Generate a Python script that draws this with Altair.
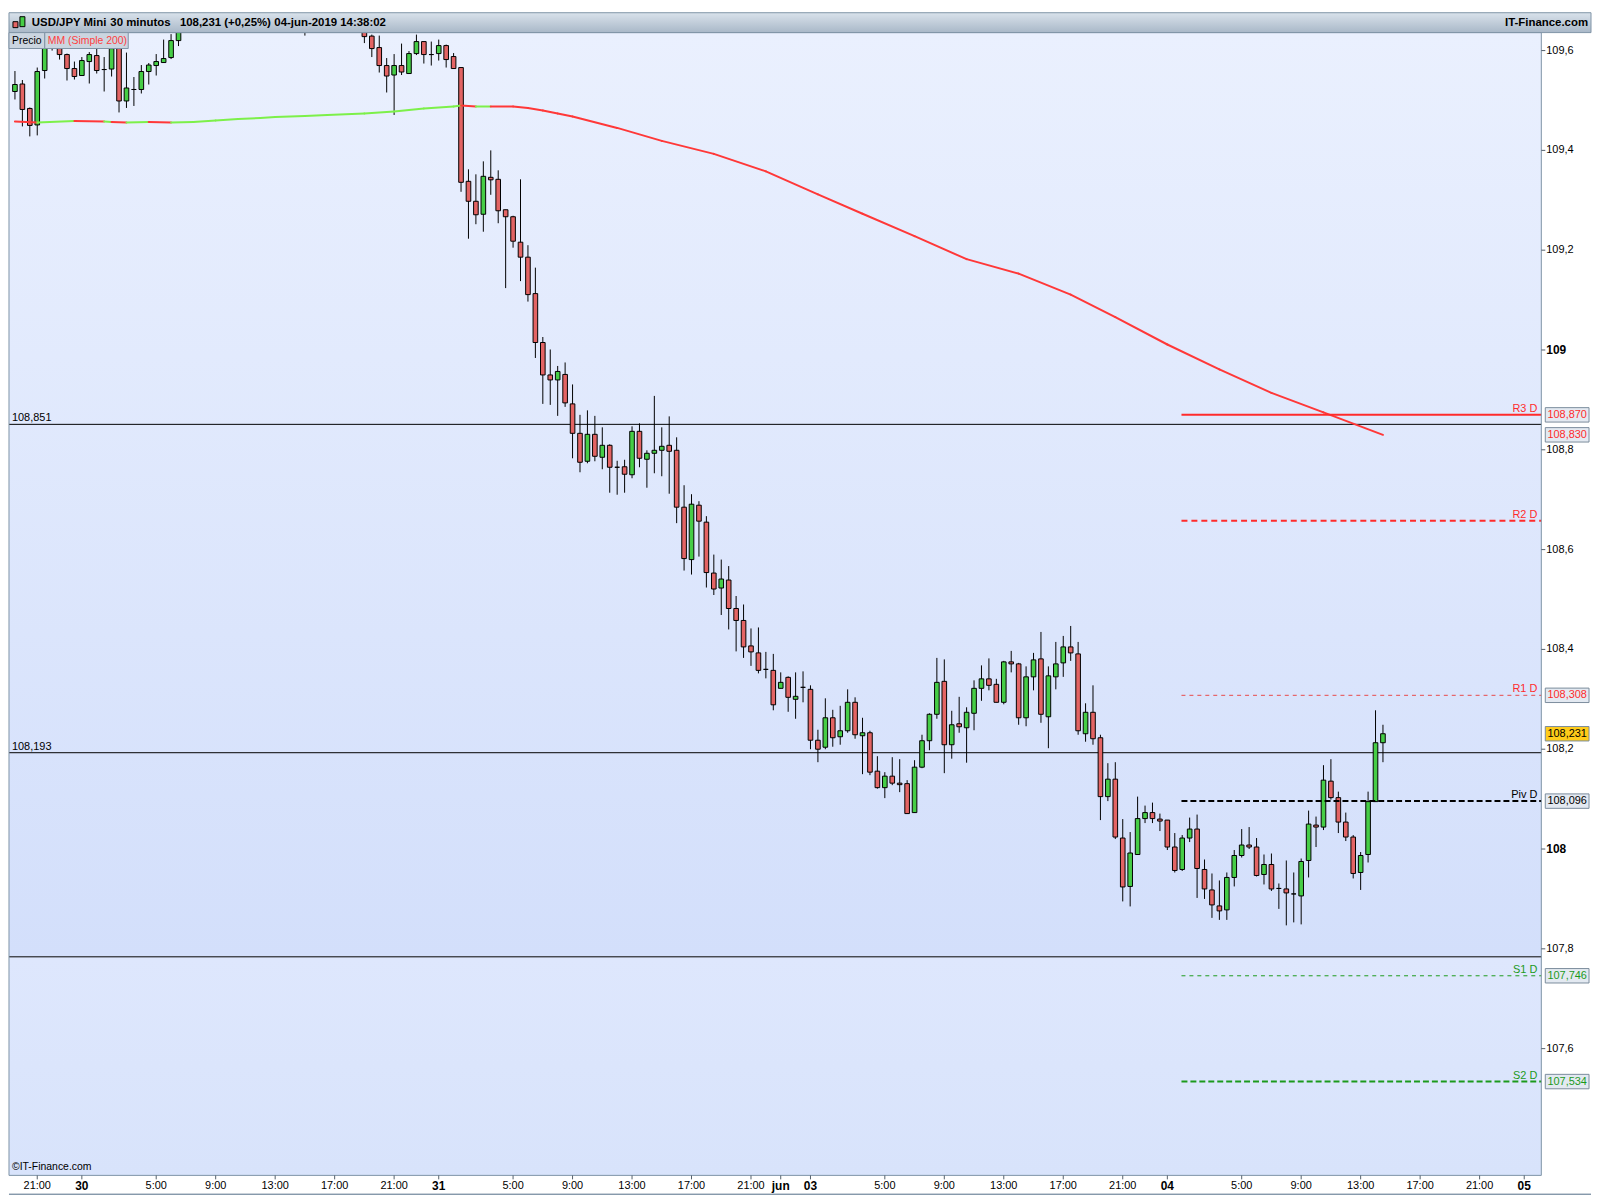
import altair as alt
import pandas as pd

# ---------------- data ----------------
opens = [
    109.518, 109.533, 109.484, 109.451, 109.560, 109.648, 109.618, 109.592, 109.564, 109.550,
    109.578, 109.590, 109.562, 109.563, 109.607, 109.499, 109.522, 109.522, 109.558, 109.570,
    109.576, 109.586, 109.620, 109.648, 109.682, 109.705, 109.695, 109.738, 109.760, 109.752,
    109.730, 109.748, 109.790, 109.815, 109.800, 109.770, 109.745, 109.712, 109.695, 109.668,
    109.680, 109.705, 109.728, 109.712, 109.700, 109.690, 109.675, 109.660, 109.629, 109.606,
    109.570, 109.551, 109.570, 109.554, 109.594, 109.618, 109.592, 109.594, 109.610, 109.588,
    109.566, 109.338, 109.298, 109.272, 109.346, 109.342, 109.281, 109.267, 109.216, 109.186,
    109.113, 109.015, 108.950, 108.940, 108.951, 108.892, 108.833, 108.777, 108.831, 108.785,
    108.809, 108.765, 108.766, 108.750, 108.837, 108.781, 108.793, 108.799, 108.809, 108.799,
    108.685, 108.580, 108.689, 108.655, 108.553, 108.523, 108.539, 108.482, 108.458, 108.407,
    108.393, 108.360, 108.358, 108.322, 108.344, 108.300, 108.324, 108.320, 108.218, 108.204,
    108.263, 108.225, 108.237, 108.294, 108.227, 108.233, 108.156, 108.123, 108.146, 108.132,
    108.131, 108.073, 108.164, 108.217, 108.270, 108.336, 108.209, 108.251, 108.243, 108.272,
    108.322, 108.341, 108.330, 108.294, 108.375, 108.371, 108.263, 108.345, 108.381, 108.265,
    108.345, 108.373, 108.405, 108.391, 108.231, 108.274, 108.223, 108.105, 108.140, 108.022,
    107.925, 107.989, 108.061, 108.073, 108.060, 108.058, 108.004, 107.959, 108.022, 108.040,
    107.959, 107.918, 107.886, 107.878, 107.943, 107.987, 108.008, 108.004, 107.949, 107.969,
    107.921, 107.920, 107.910, 107.906, 107.977, 108.048, 108.044, 108.136, 108.103, 108.054,
    108.024, 107.953, 107.989, 108.095, 108.213,
]
highs = [
    109.559, 109.541, 109.486, 109.566, 109.665, 109.668, 109.628, 109.594, 109.578, 109.587,
    109.597, 109.607, 109.587, 109.609, 109.622, 109.596, 109.547, 109.571, 109.575, 109.593,
    109.622, 109.633, 109.662, 109.690, 109.720, 109.730, 109.745, 109.770, 109.790, 109.775,
    109.760, 109.800, 109.830, 109.845, 109.820, 109.790, 109.770, 109.735, 109.720, 109.690,
    109.715, 109.740, 109.750, 109.735, 109.725, 109.710, 109.690, 109.670, 109.632, 109.630,
    109.585, 109.593, 109.614, 109.599, 109.632, 109.618, 109.618, 109.622, 109.612, 109.595,
    109.566, 109.362, 109.352, 109.378, 109.400, 109.360, 109.281, 109.269, 109.342, 109.210,
    109.165, 109.026, 109.001, 108.968, 108.975, 108.931, 108.870, 108.879, 108.868, 108.845,
    108.811, 108.778, 108.780, 108.847, 108.853, 108.799, 108.908, 108.845, 108.867, 108.825,
    108.729, 108.711, 108.697, 108.667, 108.590, 108.580, 108.567, 108.507, 108.490, 108.442,
    108.444, 108.395, 108.391, 108.354, 108.346, 108.354, 108.356, 108.328, 108.239, 108.302,
    108.279, 108.287, 108.320, 108.304, 108.263, 108.237, 108.186, 108.154, 108.184, 108.180,
    108.138, 108.178, 108.229, 108.272, 108.383, 108.380, 108.277, 108.305, 108.284, 108.338,
    108.368, 108.382, 108.341, 108.377, 108.397, 108.373, 108.366, 108.393, 108.435, 108.366,
    108.415, 108.427, 108.447, 108.415, 108.292, 108.328, 108.229, 108.172, 108.174, 108.060,
    108.034, 108.105, 108.087, 108.093, 108.071, 108.058, 108.032, 108.028, 108.063, 108.069,
    107.979, 107.951, 107.937, 107.953, 107.998, 108.040, 108.044, 108.022, 107.989, 107.991,
    107.931, 107.977, 107.953, 107.981, 108.077, 108.065, 108.168, 108.180, 108.115, 108.073,
    108.028, 107.994, 108.115, 108.278, 108.249,
]
lows = [
    109.502, 109.448, 109.428, 109.430, 109.544, 109.600, 109.582, 109.540, 109.542, 109.550,
    109.534, 109.554, 109.518, 109.548, 109.476, 109.485, 109.489, 109.514, 109.532, 109.550,
    109.576, 109.583, 109.609, 109.645, 109.670, 109.688, 109.690, 109.725, 109.740, 109.720,
    109.715, 109.740, 109.770, 109.790, 109.760, 109.735, 109.700, 109.680, 109.660, 109.630,
    109.665, 109.690, 109.700, 109.690, 109.680, 109.665, 109.650, 109.615, 109.587, 109.556,
    109.516, 109.471, 109.551, 109.553, 109.591, 109.574, 109.570, 109.580, 109.566, 109.564,
    109.317, 109.223, 109.252, 109.237, 109.311, 109.254, 109.124, 109.205, 109.138, 109.097,
    108.984, 108.892, 108.890, 108.868, 108.886, 108.783, 108.755, 108.773, 108.777, 108.761,
    108.714, 108.710, 108.714, 108.743, 108.765, 108.724, 108.753, 108.747, 108.712, 108.653,
    108.558, 108.550, 108.586, 108.524, 108.509, 108.469, 108.440, 108.396, 108.383, 108.367,
    108.352, 108.342, 108.278, 108.322, 108.275, 108.261, 108.294, 108.200, 108.174, 108.200,
    108.205, 108.209, 108.233, 108.221, 108.150, 108.148, 108.121, 108.102, 108.128, 108.114,
    108.071, 108.073, 108.162, 108.198, 108.261, 108.152, 108.181, 108.233, 108.173, 108.238,
    108.297, 108.318, 108.294, 108.290, 108.354, 108.249, 108.246, 108.318, 108.253, 108.202,
    108.320, 108.345, 108.377, 108.229, 108.215, 108.209, 108.058, 108.096, 108.020, 107.895,
    107.885, 107.989, 108.052, 108.052, 108.036, 107.998, 107.953, 107.956, 108.014, 107.902,
    107.900, 107.862, 107.858, 107.858, 107.925, 107.983, 108.000, 107.945, 107.929, 107.916,
    107.880, 107.847, 107.853, 107.849, 107.943, 108.004, 108.038, 108.099, 108.032, 108.016,
    107.941, 107.918, 107.973, 108.095, 108.174,
]
closes = [
    109.532, 109.482, 109.450, 109.558, 109.648, 109.618, 109.592, 109.564, 109.548, 109.580,
    109.592, 109.560, 109.562, 109.604, 109.499, 109.525, 109.522, 109.558, 109.571, 109.578,
    109.584, 109.620, 109.648, 109.682, 109.705, 109.695, 109.738, 109.760, 109.752, 109.730,
    109.748, 109.790, 109.815, 109.800, 109.770, 109.745, 109.712, 109.695, 109.668, 109.680,
    109.705, 109.728, 109.712, 109.700, 109.690, 109.675, 109.660, 109.628, 109.604, 109.570,
    109.549, 109.570, 109.557, 109.594, 109.618, 109.592, 109.592, 109.610, 109.582, 109.564,
    109.336, 109.298, 109.271, 109.348, 109.341, 109.279, 109.267, 109.218, 109.186, 109.111,
    109.015, 108.950, 108.940, 108.957, 108.894, 108.833, 108.775, 108.831, 108.787, 108.809,
    108.765, 108.765, 108.751, 108.837, 108.783, 108.793, 108.799, 108.807, 108.797, 108.685,
    108.582, 108.691, 108.657, 108.554, 108.521, 108.541, 108.482, 108.458, 108.405, 108.395,
    108.358, 108.360, 108.289, 108.334, 108.304, 108.306, 108.324, 108.218, 108.200, 108.263,
    108.223, 108.237, 108.294, 108.229, 108.233, 108.154, 108.123, 108.146, 108.132, 108.129,
    108.071, 108.164, 108.217, 108.270, 108.334, 108.209, 108.249, 108.245, 108.274, 108.322,
    108.341, 108.328, 108.294, 108.375, 108.371, 108.263, 108.345, 108.379, 108.270, 108.347,
    108.371, 108.405, 108.393, 108.237, 108.274, 108.221, 108.105, 108.140, 108.024, 107.924,
    107.992, 108.061, 108.073, 108.061, 108.056, 108.004, 107.957, 108.022, 108.040, 107.961,
    107.920, 107.888, 107.876, 107.943, 107.987, 108.008, 108.004, 107.947, 107.969, 107.920,
    107.921, 107.912, 107.910, 107.975, 108.050, 108.044, 108.138, 108.103, 108.054, 108.024,
    107.951, 107.987, 108.095, 108.213, 108.231,
]

# Simple moving average 200 (sampled along the curve) and its trend colour
ma_idx = [0, 3, 8, 12, 13, 15, 18, 21, 24, 27, 30, 33, 35, 39, 42, 47, 51, 55, 59, 60,
          62, 64, 67, 69, 71, 73, 75, 81, 87, 94, 101, 108, 114, 121, 128, 135, 142, 148,
          155, 162, 169, 176, 184]
ma_val = [109.458, 109.456, 109.459, 109.458, 109.457, 109.456, 109.457, 109.456, 109.457,
          109.460, 109.463, 109.465, 109.467, 109.469, 109.471, 109.474, 109.478, 109.484,
          109.488, 109.490, 109.488, 109.488, 109.488, 109.485, 109.480, 109.474, 109.468,
          109.445, 109.419, 109.393, 109.358, 109.312, 109.273, 109.228, 109.182, 109.153,
          109.111, 109.066, 109.011, 108.961, 108.914, 108.875, 108.830]
ma_trend = ["dn", "up", "dn", "up", "dn", "up", "dn",
            "up", "up", "up", "up", "up", "up", "up", "up", "up", "up", "up", "up",
            "dn", "up",
            "dn", "dn", "dn", "dn", "dn", "dn", "dn", "dn", "dn", "dn", "dn", "dn", "dn",
            "dn", "dn", "dn", "dn", "dn", "dn", "dn", "dn"]

# time axis (candle index -> label); day labels are bold
xtick_idx = [3, 9, 19, 27, 35, 43, 51, 57, 67, 75, 83, 91, 99, 103, 107, 117, 125, 133,
             141, 149, 155, 165, 173, 181, 189, 197, 203]
xtick_lbl = ["21:00", "30", "5:00", "9:00", "13:00", "17:00", "21:00", "31", "5:00", "9:00",
             "13:00", "17:00", "21:00", "jun", "03", "5:00", "9:00", "13:00", "17:00", "21:00",
             "04", "5:00", "9:00", "13:00", "17:00", "21:00", "05"]
xtick_day = [9, 57, 103, 107, 155, 203]

# price axis
ytick_vals = [107.6, 107.8, 108.0, 108.2, 108.4, 108.6, 108.8, 109.0, 109.2, 109.4, 109.6]
ytick_lbl = ["107,6", "107,8", "108", "108,2", "108,4", "108,6", "108,8", "109", "109,2",
             "109,4", "109,6"]

# daily pivots
pivot_names = ["R3 D", "R2 D", "R1 D", "Piv D", "S1 D", "S2 D"]
pivot_vals = [108.870, 108.658, 108.308, 108.096, 107.746, 107.534]
pivot_start = 156.9

# horizontal reference lines
ref_vals = [108.851, 108.193, 107.784]
ref_lbls = ["108,851", "108,193", ""]

# value boxes on the price axis
box_vals = [108.870, 108.830, 108.308, 108.231, 108.096, 107.746, 107.534]
box_lbls = ["108,870", "108,830", "108,308", "108,231", "108,096", "107,746", "107,534"]

# ---------------- styling / layout ----------------
W, H = 1542, 1150
X0, X1 = -0.8, 205.3
Y0, Y1 = 107.346, 109.636
ZONE = 107.784
FONT = "Liberation Sans, Arial, sans-serif"
NARROW = "Liberation Sans Narrow, Liberation Sans, Arial, sans-serif"
RED = "#ff2b2b"
GREEN = "#1c9a1c"
UPC = "#46cd46"
DNC = "#e36464"
FRAME = "#7f93a6"

xs = alt.Scale(domain=[X0, X1], nice=False, zero=False)
ys = alt.Scale(domain=[Y0, Y1], nice=False, zero=False)
one = pd.DataFrame({"k": [0]})


def X(f):
    return alt.X(f, scale=xs, axis=None)


def Y(f):
    return alt.Y(f, scale=ys, axis=None)


def grad(top, bottom):
    return alt.LinearGradient(
        gradient="linear",
        stops=[alt.GradientStop(color=top, offset=0), alt.GradientStop(color=bottom, offset=1)],
        x1=0, x2=0, y1=0, y2=1,
    )


def txt(text, x, y, **kw):
    return alt.Chart(one).mark_text(**kw).encode(
        x=alt.value(x), y=alt.value(y), text=alt.value(text))


def box(x, x2, y, y2, **kw):
    return alt.Chart(one).mark_rect(**kw).encode(
        x=alt.value(x), x2=alt.value(x2), y=alt.value(y), y2=alt.value(y2))


layers = []

# plot background (two gradient zones)
layers.append(alt.Chart(pd.DataFrame({"xa": [X0], "xb": [X1], "ya": [Y1], "yb": [ZONE]})).mark_rect(
    fill=grad("#eaf0fe", "#d3dffb")).encode(x=X("xa:Q"), x2="xb:Q", y=Y("ya:Q"), y2="yb:Q"))
layers.append(alt.Chart(pd.DataFrame({"xa": [X0], "xb": [X1], "ya": [ZONE], "yb": [Y0]})).mark_rect(
    fill=grad("#dee7fd", "#d8e3fb")).encode(x=X("xa:Q"), x2="xb:Q", y=Y("ya:Q"), y2="yb:Q"))

# reference black lines
refdf = pd.DataFrame({"v": ref_vals, "t": ref_lbls, "xa": [X0] * 3, "xb": [X1] * 3})
layers.append(alt.Chart(refdf).mark_rule(color="black", strokeWidth=1).encode(
    x=X("xa:Q"), x2="xb:Q", y=Y("v:Q")))
layers.append(alt.Chart(refdf).mark_text(
    align="left", baseline="bottom", dy=-1, fontSize=11, font=FONT, color="black").encode(
    x=alt.value(3), y=Y("v:Q"), text="t:N"))

# candles
n = len(opens)
cdf = pd.DataFrame({"i": list(range(n)), "o": opens, "h": highs, "l": lows, "c": closes})
cdf["fill"] = [UPC if c >= o else DNC for o, c in zip(opens, closes)]
cdf["xl"] = cdf["i"] - 0.31
cdf["xr"] = cdf["i"] + 0.31
layers.append(alt.Chart(cdf).mark_rule(color="black", strokeWidth=1, clip=True).encode(
    x=X("i:Q"), y=Y("l:Q"), y2="h:Q"))
layers.append(alt.Chart(cdf).mark_rect(stroke="black", strokeWidth=1, clip=True).encode(
    x=X("xl:Q"), x2="xr:Q", y=Y("o:Q"), y2="c:Q", fill=alt.Fill("fill:N", scale=None)))

# moving average
rows = []
for k in range(len(ma_idx) - 1):
    col = "#7df04a" if ma_trend[k] == "up" else "#ff3838"
    rows.append({"seg": k, "i": ma_idx[k], "v": ma_val[k], "col": col})
    rows.append({"seg": k, "i": ma_idx[k + 1], "v": ma_val[k + 1], "col": col})
madf = pd.DataFrame(rows)
layers.append(alt.Chart(madf).mark_line(strokeWidth=2, clip=True, strokeCap="round").encode(
    x=X("i:Q"), y=Y("v:Q"), detail="seg:N", color=alt.Color("col:N", scale=None)))

# pivot lines
pstyle = {
    "R3 D": dict(color=RED, strokeWidth=2),
    "R2 D": dict(color=RED, strokeWidth=2, strokeDash=[6, 4]),
    "R1 D": dict(color="#e84a4a", strokeWidth=1, strokeDash=[4, 4]),
    "Piv D": dict(color="black", strokeWidth=2, strokeDash=[6, 3]),
    "S1 D": dict(color=GREEN, strokeWidth=1, strokeDash=[4, 4]),
    "S2 D": dict(color=GREEN, strokeWidth=2, strokeDash=[6, 3]),
}
plabel_col = {"R3 D": RED, "R2 D": RED, "R1 D": RED, "Piv D": "black", "S1 D": GREEN, "S2 D": GREEN}
for name, val in zip(pivot_names, pivot_vals):
    pdf = pd.DataFrame({"v": [val], "xa": [pivot_start], "xb": [X1], "t": [name]})
    layers.append(alt.Chart(pdf).mark_rule(**pstyle[name]).encode(
        x=X("xa:Q"), x2="xb:Q", y=Y("v:Q")))
    layers.append(alt.Chart(pdf).mark_text(
        align="right", baseline="bottom", dy=-1, fontSize=11, font=FONT,
        color=plabel_col[name]).encode(x=alt.value(W - 4), y=Y("v:Q"), text="t:N"))

# plot frame
layers.append(alt.Chart(pd.DataFrame({"xa": [X0], "xb": [X1], "ya": [Y0], "yb": [Y1]})).mark_rect(
    fillOpacity=0, stroke=FRAME, strokeWidth=1).encode(x=X("xa:Q"), x2="xb:Q", y=Y("ya:Q"), y2="yb:Q"))

# ---- price axis (right) ----
ydf = pd.DataFrame({"v": ytick_vals, "t": ytick_lbl})
ydf["major"] = [abs(v - round(v)) < 1e-6 for v in ytick_vals]
layers.append(alt.Chart(ydf).mark_rule(color="#55606b", strokeWidth=1).encode(
    x=alt.value(W), x2=alt.value(W + 4), y=Y("v:Q")))
layers.append(alt.Chart(ydf[~ydf["major"]]).mark_text(
    align="left", baseline="middle", fontSize=11, font=FONT, color="black").encode(
    x=alt.value(W + 5), y=Y("v:Q"), text="t:N"))
layers.append(alt.Chart(ydf[ydf["major"]]).mark_text(
    align="left", baseline="middle", fontSize=12, fontWeight="bold", font=FONT, color="black").encode(
    x=alt.value(W + 5), y=Y("v:Q"), text="t:N"))

# value boxes on the right axis
box_txt_col = [RED, RED, RED, "black", "black", GREEN, GREEN]
box_bg = ["#e3e9f1", "#e3e9f1", "#e3e9f1", "#ffcc1a", "#e3e9f1", "#e3e9f1", "#e3e9f1"]
bdf = pd.DataFrame({"v": box_vals, "t": box_lbls, "tc": box_txt_col, "bg": box_bg})
BOX = "M-1,-0.33L1,-0.33L1,0.33L-1,0.33Z"
layers.append(alt.Chart(bdf).mark_point(
    shape=BOX, size=44 * 44, filled=True, stroke="#7b8c9c", strokeWidth=1, opacity=1).encode(
    x=alt.value(W + 26), y=Y("v:Q"), fill=alt.Fill("bg:N", scale=None)))
layers.append(alt.Chart(bdf).mark_text(
    align="center", baseline="middle", fontSize=11, font=FONT).encode(
    x=alt.value(W + 26), y=Y("v:Q"), text="t:N", color=alt.Color("tc:N", scale=None)))

# ---- time axis (bottom) ----
xdf = pd.DataFrame({"i": xtick_idx, "t": xtick_lbl})
xdf["day"] = [i in xtick_day for i in xtick_idx]
layers.append(alt.Chart(xdf).mark_rule(color="#55606b", strokeWidth=1).encode(
    x=X("i:Q"), y=alt.value(H), y2=alt.value(H + 4)))
layers.append(alt.Chart(xdf[~xdf["day"]]).mark_text(
    align="center", baseline="middle", fontSize=11, font=NARROW, color="black").encode(
    x=X("i:Q"), y=alt.value(H + 11), text="t:N"))
layers.append(alt.Chart(xdf[xdf["day"]]).mark_text(
    align="center", baseline="middle", fontSize=12, fontWeight="bold", font=FONT, color="black").encode(
    x=X("i:Q"), y=alt.value(H + 11), text="t:N"))
layers.append(box(0, W + 50, H + 19, H + 19, stroke=FRAME, strokeWidth=1))

# header bar
layers.append(box(0, W + 50, -20, 0, fill=grad("#d9e2eb", "#a9b8c8"), stroke=FRAME, strokeWidth=1))
layers.append(box(4, 9, -11, -5, fill=DNC, stroke="black", strokeWidth=1))
layers.append(box(11, 16, -16, -6, fill=UPC, stroke="black", strokeWidth=1))
for s, x in [("USD/JPY Mini", 23), ("30 minutos", 102), ("108,231 (+0,25%)", 172),
             ("04-jun-2019 14:38:02", 267)]:
    layers.append(txt(s, x, -10, align="left", baseline="middle", fontSize=11.5,
                      fontWeight="bold", font=FONT, color="black"))
layers.append(txt("IT-Finance.com", W + 47, -10, align="right", baseline="middle", fontSize=11.5,
                  fontWeight="bold", font=FONT, color="black"))

# series legend
layers.append(box(0, 36, 0, 16, fill="#cbd5e0", stroke="#8093a5", strokeWidth=1))
layers.append(box(36, 120, 0, 16, fill="#cbd5e0", stroke="#8093a5", strokeWidth=1))
layers.append(txt("Precio", 3, 8, align="left", baseline="middle", fontSize=10.5, font=FONT, color="black"))
layers.append(txt("MM (Simple 200)", 39, 8, align="left", baseline="middle", fontSize=10.5, font=FONT,
                  color="#ff4040"))

# copyright
layers.append(txt("\u00a9IT-Finance.com", 3, H - 8, align="left", baseline="middle", fontSize=10.5,
                  font=FONT, color="black"))

chart = alt.layer(*layers).properties(
    width=W, height=H, padding=0, background="white"
).configure_view(stroke=None)

chart.save("out.html", embed_options={"renderer": "svg", "actions": False})
